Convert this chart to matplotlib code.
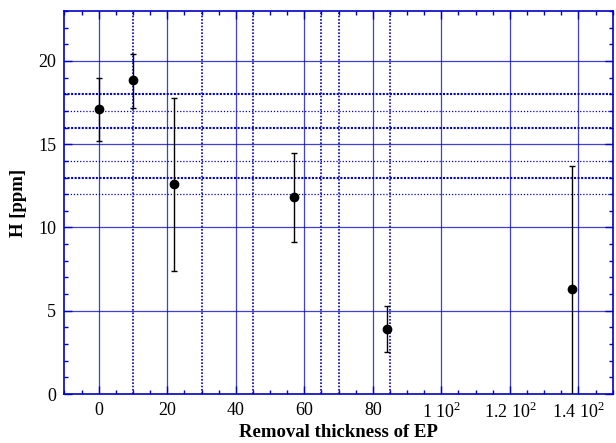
import matplotlib
matplotlib.use("Agg")
import matplotlib.pyplot as plt
from matplotlib.ticker import MultipleLocator, FixedLocator, FixedFormatter

plt.rcParams['font.family'] = ['Liberation Serif', 'DejaVu Serif']
plt.rcParams['mathtext.fontset'] = 'custom'
plt.rcParams['mathtext.rm'] = 'Liberation Serif'

# datos
x = [0, 10, 22, 57, 84, 138]
h = [17.1, 18.85, 12.6, 11.8, 3.9, 6.3]
err_up = [1.9, 1.55, 5.2, 2.7, 1.4, 7.4]
err_dn = [1.9, 1.7, 5.2, 2.7, 1.4, 7.4]

xticks = [0, 20, 40, 60, 80, 100, 120, 140]
xlabels = ["0", "20", "40", "60", "80", r"1 $10^{2}$", r"1.2 $10^{2}$", r"1.4 $10^{2}$"]
yticks = [0, 5, 10, 15, 20]

# lineas de rejilla
vgrid_solid = [0, 20, 40, 60, 80, 100, 120, 140]
vgrid_dot = [10, 30, 45, 65, 70, 85]
hgrid_solid = [5, 10, 15, 20]
hgrid_dot_thick = [13, 16, 18]
hgrid_dot_thin = [12, 14, 17]

azul = '#0000cc'

fig = plt.figure(figsize=(6.16, 4.43), dpi=100)
ax = fig.add_axes([0.1047, 0.1106, 0.8899, 0.8646])

for v in vgrid_solid:
    ax.axvline(v, color=azul, lw=0.9, alpha=0.75, zorder=1)
for v in vgrid_dot:
    ax.axvline(v, color=azul, lw=1.2, ls=(0, (1, 1)), zorder=1)
for v in hgrid_solid:
    ax.axhline(v, color=azul, lw=0.9, alpha=0.75, zorder=1)
for v in hgrid_dot_thick:
    ax.axhline(v, color=azul, lw=1.5, ls=(0, (1, 0.7)), zorder=1)
for v in hgrid_dot_thin:
    ax.axhline(v, color=azul, lw=0.9, ls=(0, (1, 1.5)), zorder=1)

ax.errorbar(x, h, yerr=[err_dn, err_up], fmt='o', color='black', ms=6,
            ecolor='black', elinewidth=1, capsize=2, capthick=1, zorder=3)

ax.set_xlim(-10, 150)
ax.set_ylim(0, 23)
ax.xaxis.set_major_locator(FixedLocator(xticks))
ax.xaxis.set_major_formatter(FixedFormatter(xlabels))
ax.yaxis.set_major_locator(FixedLocator(yticks))
ax.xaxis.set_minor_locator(MultipleLocator(5))
ax.yaxis.set_minor_locator(MultipleLocator(1))
ax.tick_params(which='both', direction='in', top=True, right=True,
               color=azul, labelsize=13, pad=6)
ax.tick_params(which='major', length=6, width=1)
ax.tick_params(which='minor', length=3, width=1)
for s in ax.spines.values():
    s.set_color(azul)
    s.set_linewidth(1.2)

ax.set_xlabel('Removal thickness of EP', fontsize=13.5, fontweight='bold', labelpad=1)
ax.set_ylabel('H [ppm]', fontsize=13.5, fontweight='bold', labelpad=8)

fig.savefig('out.png', dpi=100)
